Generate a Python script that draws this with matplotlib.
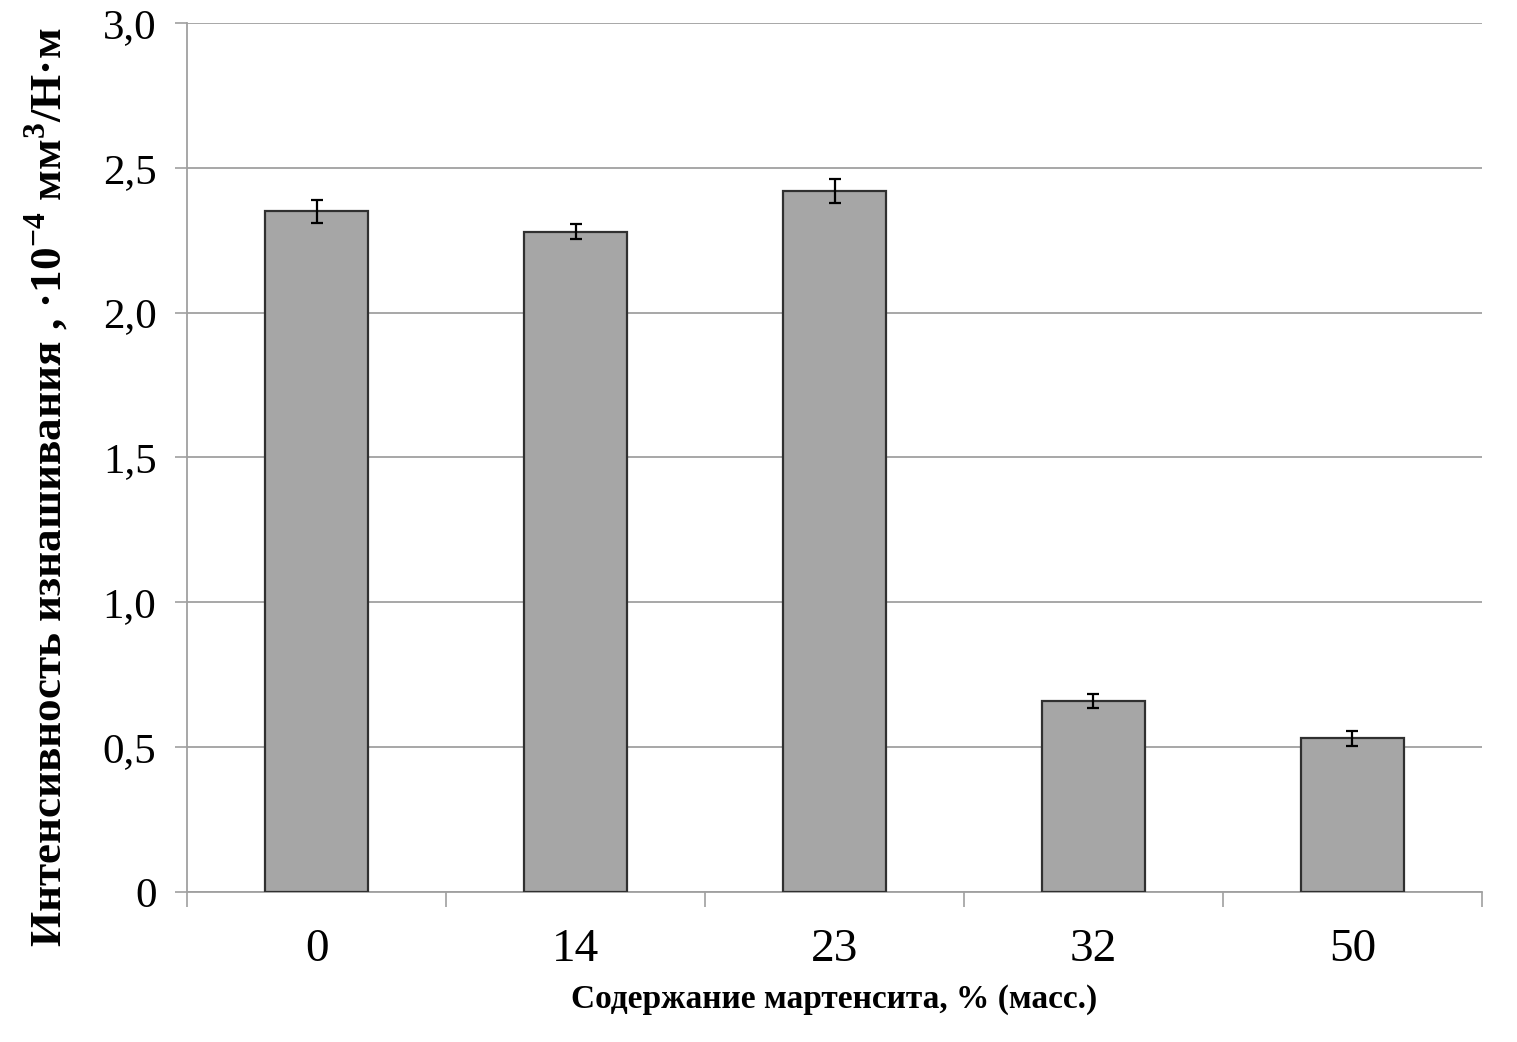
import numpy as np
import matplotlib.pyplot as plt
from matplotlib.ticker import FixedLocator

plt.rcParams['font.family'] = ['Liberation Serif', 'DejaVu Serif']
plt.rcParams['mathtext.fontset'] = 'custom'
plt.rcParams['mathtext.rm'] = 'Liberation Serif'
plt.rcParams['mathtext.bf'] = 'Liberation Serif:bold'

# data
categories = ['0', '14', '23', '32', '50']
wear = [2.35, 2.28, 2.42, 0.66, 0.53]
wear_err = [0.04, 0.025, 0.04, 0.025, 0.025]
ytick_vals = [0, 0.5, 1.0, 1.5, 2.0, 2.5, 3.0]
ytick_labels = ['0', '0,5', '1,0', '1,5', '2,0', '2,5', '3,0']

fig = plt.figure(figsize=(15.17, 10.42), dpi=100)
ax = fig.add_axes([0.1233, 0.144, 0.8536, 0.8339])

x = np.arange(len(categories))
ax.bar(x, wear, width=0.4, color='#a6a6a6', edgecolor='#303030', linewidth=1.6, zorder=3)
ax.errorbar(x, wear, yerr=wear_err, fmt='none', ecolor='black', elinewidth=1.6,
            capsize=4.5, capthick=1.6, zorder=4)

ax.set_xlim(-0.5, len(categories) - 0.5)
ax.set_ylim(0, 3.0)
ax.set_yticks(ytick_vals)
ax.set_yticklabels(ytick_labels, fontsize=31)
ax.yaxis.grid(True, color='#a0a0a0', linewidth=1.3, zorder=0)

ax.set_xticks(x)
ax.set_xticklabels(categories, fontsize=34)
ax.xaxis.set_minor_locator(FixedLocator(np.arange(-0.5, len(categories), 1.0)))
ax.tick_params(axis='x', which='major', length=0, pad=26)
ax.tick_params(axis='x', which='minor', length=11, width=1.2, color='#a0a0a0', direction='out')
ax.tick_params(axis='y', length=9, width=1.2, color='#a0a0a0', pad=13)

for side in ['top', 'right']:
    ax.spines[side].set_visible(False)
for side in ['left', 'bottom']:
    ax.spines[side].set_color('#a0a0a0')
    ax.spines[side].set_linewidth(1.3)

ax.set_xlabel('Содержание мартенсита, % (масс.)', fontsize=24, fontweight='bold', labelpad=10)
ax.set_ylabel(r'Интенсивность изнашивания , ·10$^{\mathdefault{-4}}$ мм$^{\mathdefault{3}}$/Н·м',
              fontsize=32.5, fontweight='bold')
ax.yaxis.set_label_coords(-0.09, 0.466)

fig.savefig('out.png', dpi=100)
